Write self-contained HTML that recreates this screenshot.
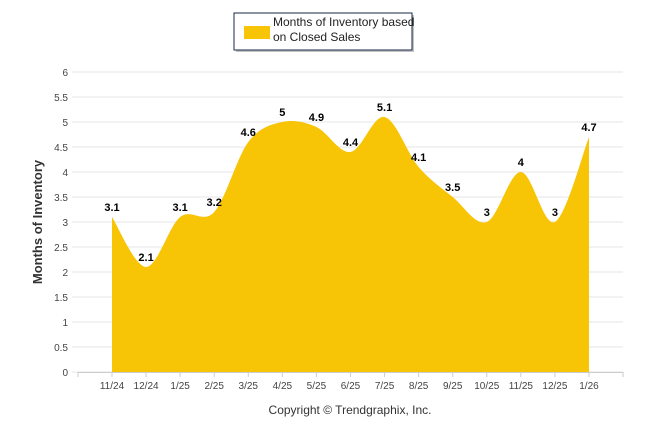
<!DOCTYPE html>
<html><head><meta charset="utf-8"><style>
body{margin:0;background:#fff;}
svg{display:block;font-family:"Liberation Sans",sans-serif;}
</style></head><body>
<svg id="chart" width="646" height="434">
  <g>
    <rect x="236" y="15" width="178" height="37" fill="#888" opacity="0.5"/>
    <rect x="234" y="13" width="178" height="37" fill="#fff" stroke="#1a2a4a" stroke-width="1"/>
    <rect x="244" y="26" width="26" height="13" fill="#F7C406"/>
    <text x="273" y="26" font-size="12" fill="#222">Months of Inventory based</text>
    <text x="273" y="41" font-size="12" fill="#222">on Closed Sales</text>
  </g>
  <g id="grid"></g>
  <path id="area" fill="#F7C406"/>
  <g id="labels"></g>
  <g id="xaxis"></g>
  <text transform="translate(42,222) rotate(-90)" text-anchor="middle" font-size="13" font-weight="bold" fill="#333">Months of Inventory</text>
  <text x="350" y="414" text-anchor="middle" font-size="12" fill="#333">Copyright © Trendgraphix, Inc.</text>
</svg>
<script>
const categories=["11/24","12/24","1/25","2/25","3/25","4/25","5/25","6/25","7/25","8/25","9/25","10/25","11/25","12/25","1/26"];
const values=[3.1,2.1,3.1,3.2,4.6,5,4.9,4.4,5.1,4.1,3.5,3,4,3,4.7];
const yTicks=[0,0.5,1,1.5,2,2.5,3,3.5,4,4.5,5,5.5,6];
const NS="http://www.w3.org/2000/svg";
const band=34.07,left=112-band,right=left+16*band,y0=372,y6=72;
const xs=i=>left+band*(i+1);
const ys=v=>y0-(v/6)*(y0-y6);
function mk(t,a,p){const e=document.createElementNS(NS,t);for(const k in a)e.setAttribute(k,a[k]);(p||document.getElementById('chart')).appendChild(e);return e;}
const grid=document.getElementById('grid');
yTicks.forEach(t=>{
  const l=mk('line',{x1:72,x2:right,y1:ys(t),y2:ys(t),stroke:'#e6e6e6','stroke-width':1},grid);
  
  
  const tx=mk('text',{x:68,y:ys(t)+4,'text-anchor':'end','font-size':10,fill:'#444'},grid);
  tx.textContent=t;
  
  
});
const xa=document.getElementById('xaxis');
mk('line',{x1:left,x2:right,y1:y0+0.5,y2:y0+0.5,stroke:'#ccc'},xa);
for(let i=0;i<=16;i++){mk('line',{x1:left+band*i,x2:left+band*i,y1:y0,y2:y0+5,stroke:'#ccc'},xa);}
categories.forEach((c,i)=>{
  const t=mk('text',{x:xs(i),y:y0+17,'text-anchor':'middle','font-size':10,fill:'#444'},xa);
  t.textContent=c;
  
  
});
const pts=values.map((v,i)=>[xs(i),ys(v)]);
let d=`M${pts[0][0]},${y0}L${pts[0][0]},${pts[0][1]}`;
for(let i=0;i<pts.length-1;i++){
  const p0=pts[Math.max(0,i-1)],p1=pts[i],p2=pts[i+1],p3=pts[Math.min(pts.length-1,i+2)];
  const k=1/6;
  let c1=[p1[0]+(p2[0]-p0[0])*k,p1[1]+(p2[1]-p0[1])*k];
  let c2=[p2[0]-(p3[0]-p1[0])*k,p2[1]-(p3[1]-p1[1])*k];
  d+=`C${c1[0]},${c1[1]} ${c2[0]},${c2[1]} ${p2[0]},${p2[1]}`;
}
d+=`L${pts[pts.length-1][0]},${y0}Z`;
document.getElementById('area').setAttribute('d',d);
const lg=document.getElementById('labels');
values.forEach((v,i)=>{
  const t=mk('text',{x:xs(i),y:ys(v)-6,'text-anchor':'middle','font-size':11,'font-weight':'bold',fill:'#000'},lg);
  t.textContent=v;
  
  
});
</script>
</body></html>
